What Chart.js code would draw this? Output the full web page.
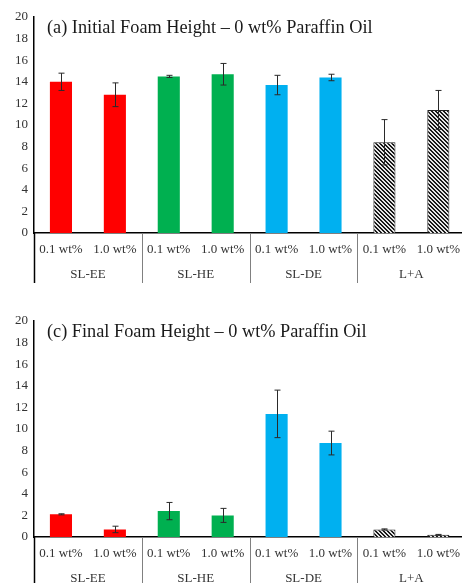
<!DOCTYPE html>
<html>
<head>
<meta charset="utf-8">
<script src="https://cdn.jsdelivr.net/npm/chart.js@4"></script>
<style>
  body { margin: 0; width: 462px; height: 583px; overflow: hidden; background: #fff; position: relative; }
  .box { position: absolute; left: 0; width: 469px; height: 304px; }
  #topBox { top: 0; }
  #bottomBox { top: 304px; }
</style>
</head>
<body>
<div class="box" id="topBox"><canvas id="initChart" width="469" height="304"></canvas></div>
<div class="box" id="bottomBox"><canvas id="finalChart" width="469" height="304"></canvas></div>
<script>
// data
const subLabels = ['0.1 wt%', '1.0 wt%', '0.1 wt%', '1.0 wt%', '0.1 wt%', '1.0 wt%', '0.1 wt%', '1.0 wt%'];
const groups = ['SL-EE', 'SL-HE', 'SL-DE', 'L+A'];
const yMin = 0, yMax = 20, yStep = 2;

const initialTitle = '(a) Initial Foam Height \u2013 0 wt% Paraffin Oil';
const initialHeight = [14.0, 12.8, 14.5, 14.7, 13.7, 14.4, 8.4, 11.4];
const initialErr = [0.8, 1.1, 0.1, 1.0, 0.9, 0.3, 2.1, 1.8];

const finalTitle = '(c) Final Foam Height \u2013 0 wt% Paraffin Oil';
const finalHeight = [2.1, 0.7, 2.4, 2.0, 11.4, 8.7, 0.7, 0.2];
const finalErr = [0.05, 0.3, 0.8, 0.65, 2.2, 1.1, 0.05, 0.04];

Chart.defaults.font.family = "'Liberation Serif', 'DejaVu Serif', serif";
Chart.defaults.color = '#333';

function hatch() {
    const c = document.createElement('canvas');
    c.width = 4; c.height = 4;
    const g = c.getContext('2d');
    const img = g.createImageData(4, 4);
    for (let y = 0; y < 4; y++) {
        for (let x = 0; x < 4; x++) {
            const dark = ((x - y + 8) % 4) < 2;
            const i = (y * 4 + x) * 4;
            const v = dark ? 25 : 230;
            img.data[i] = v; img.data[i + 1] = v; img.data[i + 2] = v; img.data[i + 3] = 255;
        }
    }
    g.putImageData(img, 0, 0);
    return g.createPattern(c, 'repeat');
}

const stripes = hatch();
const barColors = ['#ff0000', '#ff0000', '#00b050', '#00b050', '#00b0f0', '#00b0f0', stripes, stripes];
const barBorders = [0, 0, 0, 0, 0, 0, 1, 1];

// error bars + title + group separators
const extras = {
    id: 'extras',
    afterDatasetsDraw(chart, args, opts) {
        const ctx = chart.ctx;
        const y = chart.scales.y;
        const meta = chart.getDatasetMeta(0);
        const vals = chart.data.datasets[0].data;
        ctx.save();
        ctx.strokeStyle = '#2a2a2a';
        ctx.lineWidth = 1;
        meta.data.forEach((bar, i) => {
            const e = opts.errors[i];
            const top = y.getPixelForValue(vals[i] + e);
            const bot = y.getPixelForValue(vals[i] - e);
            const x = Math.round(bar.x) + 0.5;
            ctx.beginPath();
            ctx.moveTo(x, top); ctx.lineTo(x, bot);
            ctx.moveTo(x - 3, top); ctx.lineTo(x + 3, top);
            ctx.moveTo(x - 3, bot); ctx.lineTo(x + 3, bot);
            ctx.stroke();
        });
        ctx.restore();
    },
    afterDraw(chart, args, opts) {
        const ctx = chart.ctx;
        const area = chart.chartArea;
        const xs = chart.scales.x;
        const half = xs.width / subLabels.length / 2;
        ctx.save();
        for (let g = 0; g <= groups.length; g++) {
            const px = g < groups.length ? xs.getPixelForTick(g * 2) - half : xs.right;
            ctx.strokeStyle = g === 0 ? '#000' : '#808080';
            ctx.lineWidth = g === 0 ? 1.5 : 1;
            ctx.beginPath();
            ctx.moveTo(Math.round(px) + 0.5, area.bottom);
            ctx.lineTo(Math.round(px) + 0.5, area.bottom + 50);
            ctx.stroke();
        }
        ctx.fillStyle = '#1a1a1a';
        ctx.font = "18.3px 'Liberation Serif', serif";
        ctx.textBaseline = 'alphabetic';
        ctx.fillText(opts.title, area.left + 13, 33);
        ctx.restore();
    }
};

function makeChart(id, values, errs, title) {
    return new Chart(document.getElementById(id), {
        type: 'bar',
        data: {
            labels: subLabels,
            datasets: [{
                data: values,
                backgroundColor: barColors,
                borderColor: '#222',
                borderWidth: barBorders,
                categoryPercentage: 1,
                barPercentage: 0.41
            }]
        },
        options: {
            responsive: false,
            animation: false,
            layout: { padding: { top: 17, bottom: 23, left: 0, right: 0 } },
            plugins: {
                legend: { display: false },
                tooltip: { enabled: false },
                extras: { errors: errs, title: title }
            },
            scales: {
                y: {
                    min: yMin, max: yMax,
                    ticks: { stepSize: yStep, padding: 6, font: { size: 13 }, autoSkip: false },
                    grid: { display: false, drawTicks: false },
                    border: { display: true, color: '#000', width: 1.5 },
                    afterFit(s) { s.width = 34; }
                },
                x: {
                    grid: { display: false, drawTicks: false },
                    border: { display: true, color: '#000', width: 1.5 },
                    ticks: { padding: 9, font: { size: 13 }, maxRotation: 0, autoSkip: false },
                    afterFit(s) { s.height = 23; }
                },
                x2: {
                    type: 'category',
                    position: 'bottom',
                    labels: groups,
                    grid: { display: false, drawTicks: false },
                    border: { display: false },
                    ticks: { padding: 10.5, font: { size: 13 }, maxRotation: 0 },
                    afterFit(s) { s.height = 25; }
                }
            }
        },
        plugins: [extras]
    });
}

makeChart('initChart', initialHeight, initialErr, initialTitle);
makeChart('finalChart', finalHeight, finalErr, finalTitle);
</script>
</body>
</html>
